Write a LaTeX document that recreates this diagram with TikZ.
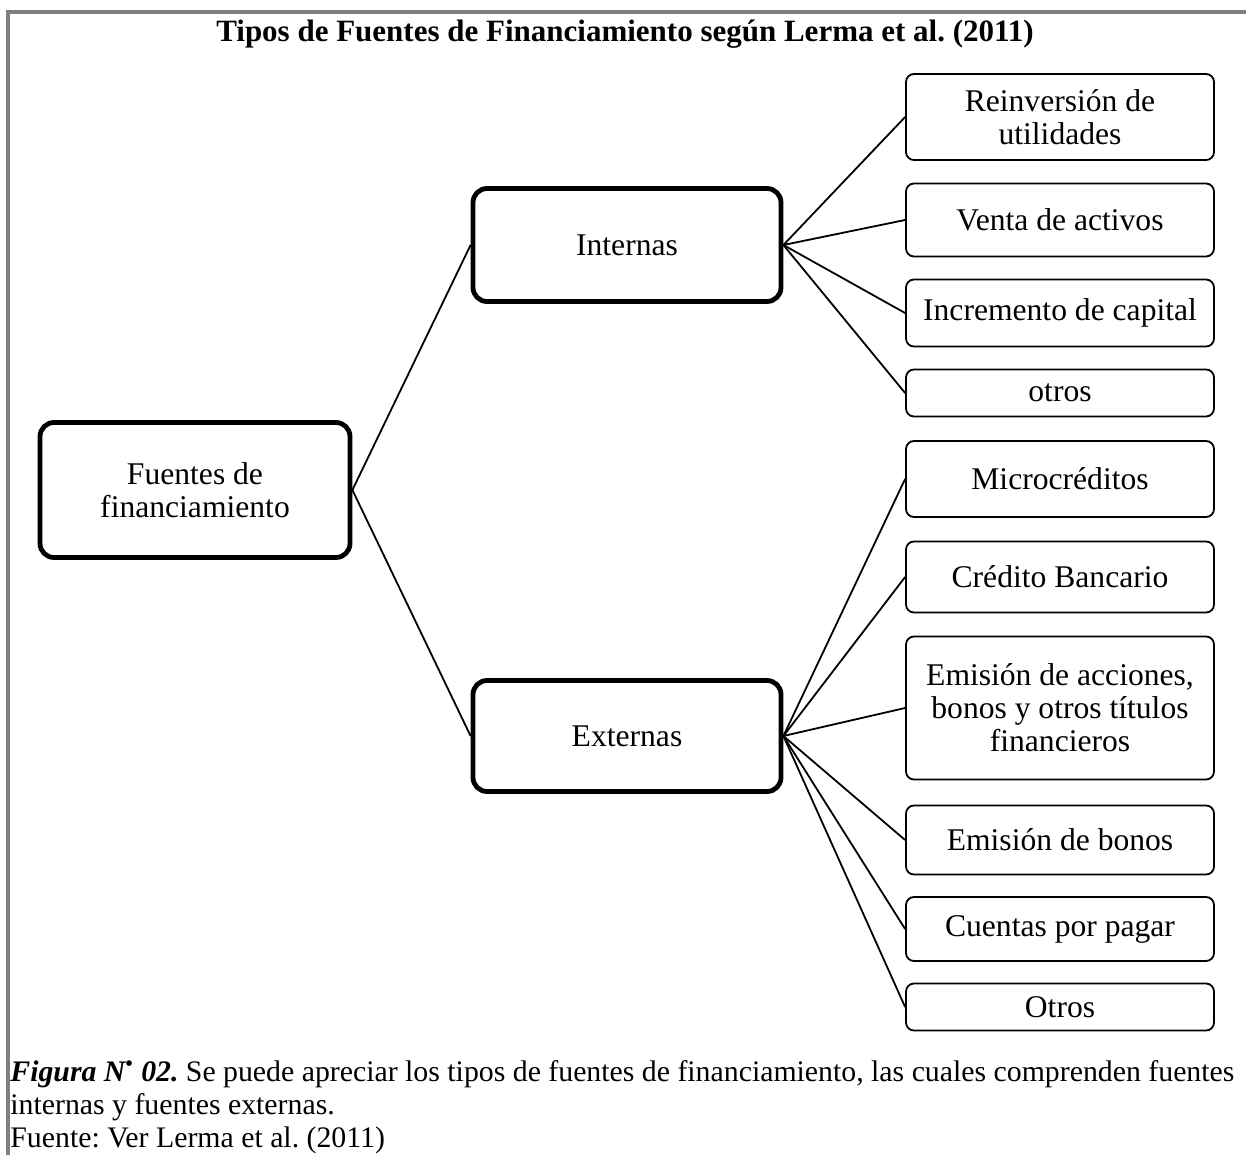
\documentclass[tikz,border=0pt]{standalone}
\usepackage{fontspec}
\setmainfont{Liberation Serif}
\frenchspacing
\begin{document}
\begin{tikzpicture}[x = 0.5pt, y = -0.5pt,
  mainbox/.style = {draw, line width = 2.4pt, rounded corners = 7pt, align = center, inner sep = 2pt, font = \fontsize{15.8}{16.5}\selectfont},
  leafbox/.style = {draw, line width = 0.9pt, rounded corners = 4pt, minimum width = 154pt, align = center, inner sep = 2pt, font = \fontsize{15.8}{16.5}\selectfont},
  link/.style = {line width = 0.9pt}]
\useasboundingbox (0, 0) rectangle (1246, 1155);
\draw [line width = 1.8pt, color = gray] (8, 1155) -- (8, 12) -- (1246, 12);
\node [font = \fontsize{15.5}{16.5}\selectfont\bfseries, anchor = base] (titulo) at (625, 42) {Tipos de Fuentes de Financiamiento según Lerma et al. (2011)};
% raiz y ramas
\node [mainbox, minimum width = 155pt, minimum height = 67.5pt] (fuentes) at (195, 490) {Fuentes de\\financiamiento};
\node [mainbox, minimum width = 154pt, minimum height = 56.5pt] (internas) at (627, 245) {Internas};
\node [mainbox, minimum width = 154pt, minimum height = 55.5pt] (externas) at (627, 736) {Externas};
% hojas internas
\node [leafbox, minimum height = 43pt] (reinversion) at (1060, 117) {Reinversión de\\utilidades};
\node [leafbox, minimum height = 36.5pt] (venta) at (1060, 220) {Venta de activos};
\node [leafbox, minimum height = 33.5pt] (incremento) at (1060, 313) {Incremento de capital};
\node [leafbox, minimum height = 23.5pt] (otrosint) at (1060, 393) {otros};
% hojas externas
\node [leafbox, minimum height = 38pt] (micro) at (1060, 479) {Microcréditos};
\node [leafbox, minimum height = 35.5pt] (credito) at (1060, 577) {Crédito Bancario};
\node [leafbox, minimum height = 71.5pt] (acciones) at (1060, 708) {Emisión de acciones,\\bonos y otros títulos\\financieros};
\node [leafbox, minimum height = 34.5pt] (bonos) at (1060, 840) {Emisión de bonos};
\node [leafbox, minimum height = 32pt] (cuentas) at (1060, 929) {Cuentas por pagar};
\node [leafbox, minimum height = 23.5pt] (otrosext) at (1060, 1007) {Otros};
% conectores
\draw [link] (fuentes.east) -- (internas.west);
\draw [link] (fuentes.east) -- (externas.west);
\foreach \hoja in {reinversion, venta, incremento, otrosint}
  \draw [link] (internas.east) -- (\hoja.west);
\foreach \hoja in {micro, credito, acciones, bonos, cuentas, otrosext}
  \draw [link] (externas.east) -- (\hoja.west);
% pie de figura
\node [anchor = north west, align = left, inner sep = 0pt, font = \fontsize{14.9}{16.5}\selectfont] (pie) at (10, 1060) {\textbf{\textit{Figura N\textsuperscript{•} 02.}} Se puede apreciar los tipos de fuentes de financiamiento, las cuales comprenden fuentes\\internas y fuentes externas.\\Fuente: Ver Lerma et al. (2011)};
\end{tikzpicture}
\end{document}
